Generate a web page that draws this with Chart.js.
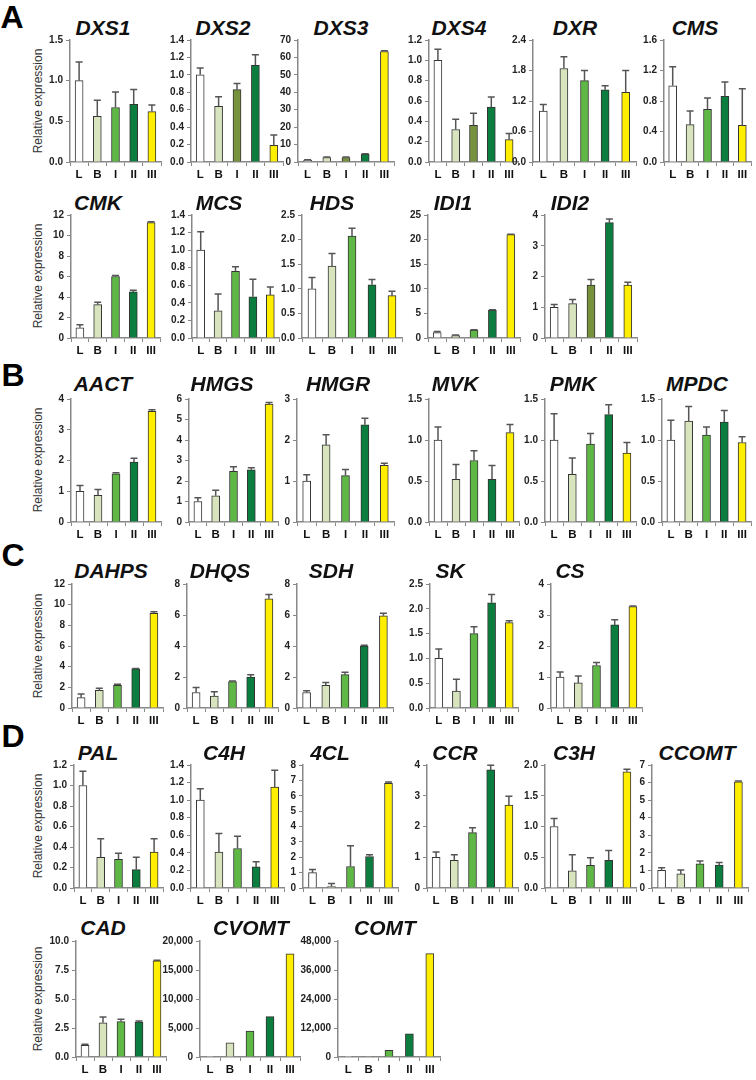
<!DOCTYPE html>
<html>
<head>
<meta charset="utf-8">
<script src="https://cdn.jsdelivr.net/npm/chart.js@4.4.1/dist/chart.umd.min.js"></script>
<style>
  body { margin: 0; width: 756px; height: 1080px; background: #fff; position: relative; overflow: hidden;
         font-family: "Liberation Sans", Arial, sans-serif; }
  .panel { position: absolute; }
  .title { position: absolute; font-weight: bold; font-style: italic; font-size: 21px; line-height: 1;
           transform: translate(-50%, -50%); white-space: nowrap; color: #111; }
  .letter { position: absolute; font-weight: bold; font-size: 32px; line-height: 1;
            transform: translate(-50%, -50%); color: #000; }
  .ylab { position: absolute; font-size: 12px; color: #333; line-height: 1; white-space: nowrap;
          transform: translate(-50%, -50%) rotate(-90deg); }
</style>
</head>
<body>
<script>
const categories = ['L', 'B', 'I', 'II', 'III'];

// MEP pathway
const dxs1 = [1.00, 0.56, 0.67, 0.71, 0.62];   const dxs1Err = [0.23, 0.20, 0.19, 0.18, 0.08];
const dxs2 = [1.00, 0.64, 0.83, 1.11, 0.19];   const dxs2Err = [0.08, 0.11, 0.07, 0.12, 0.12];
const dxs3 = [1.0, 2.6, 2.6, 4.5, 63.4];       const dxs3Err = [0.3, 0.3, 0.3, 0.3, 0.4];
const dxs4 = [1.00, 0.32, 0.36, 0.54, 0.22];   const dxs4Err = [0.11, 0.10, 0.12, 0.10, 0.06];
const dxr  = [1.00, 1.84, 1.60, 1.42, 1.37];   const dxrErr  = [0.13, 0.23, 0.20, 0.08, 0.43];
const cms  = [1.00, 0.49, 0.69, 0.86, 0.48];   const cmsErr  = [0.25, 0.18, 0.15, 0.19, 0.48];
const cmk  = [1.0, 3.25, 6.0, 4.5, 11.25];     const cmkErr  = [0.3, 0.25, 0.1, 0.17, 0.1];
const mcs  = [1.00, 0.31, 0.76, 0.47, 0.49];   const mcsErr  = [0.21, 0.19, 0.05, 0.20, 0.09];
const hds  = [1.00, 1.46, 2.07, 1.08, 0.86];   const hdsErr  = [0.23, 0.26, 0.16, 0.11, 0.09];
const idi1 = [1.1, 0.5, 1.6, 5.6, 21.0];       const idi1Err = [0.2, 0.1, 0.1, 0.15, 0.1];
const idi2 = [1.00, 1.12, 1.72, 3.75, 1.72];   const idi2Err = [0.09, 0.13, 0.18, 0.12, 0.09];

// MVA pathway
const aact = [1.00, 0.87, 1.57, 1.95, 3.60];   const aactErr = [0.19, 0.19, 0.03, 0.12, 0.05];
const hmgs = [1.00, 1.28, 2.47, 2.55, 5.75];   const hmgsErr = [0.18, 0.27, 0.23, 0.10, 0.08];
const hmgr = [1.00, 1.88, 1.13, 2.37, 1.38];   const hmgrErr = [0.15, 0.25, 0.15, 0.16, 0.05];
const mvk  = [1.00, 0.52, 0.75, 0.52, 1.09];   const mvkErr  = [0.16, 0.18, 0.12, 0.17, 0.10];
const pmk  = [1.00, 0.58, 0.95, 1.31, 0.84];   const pmkErr  = [0.32, 0.20, 0.13, 0.12, 0.13];
const mpdc = [1.00, 1.23, 1.06, 1.22, 0.97];   const mpdcErr = [0.24, 0.18, 0.10, 0.14, 0.07];

// shikimate pathway
const dahps = [1.0, 1.7, 2.2, 3.8, 9.15];      const dahpsErr = [0.35, 0.22, 0.1, 0.03, 0.17];
const dhqs  = [1.0, 0.77, 1.70, 2.0, 7.05];    const dhqsErr  = [0.32, 0.28, 0.05, 0.14, 0.28];
const sdh   = [1.0, 1.47, 2.15, 4.0, 5.95];    const sdhErr   = [0.12, 0.18, 0.15, 0.05, 0.17];
const sk    = [1.00, 0.34, 1.50, 2.12, 1.72];  const skErr    = [0.19, 0.24, 0.14, 0.17, 0.04];
const cs    = [1.00, 0.81, 1.37, 2.68, 3.27];  const csErr    = [0.16, 0.22, 0.10, 0.17, 0.02];

// phenylpropanoid pathway
const pal   = [1.00, 0.30, 0.28, 0.18, 0.35];  const palErr   = [0.14, 0.18, 0.06, 0.12, 0.13];
const c4h   = [1.00, 0.41, 0.45, 0.24, 1.15];  const c4hErr   = [0.13, 0.21, 0.14, 0.06, 0.19];
const cl4   = [1.0, 0.1, 1.4, 2.05, 6.8];      const cl4Err   = [0.2, 0.2, 1.35, 0.12, 0.1];
const ccr   = [1.00, 0.90, 1.80, 3.84, 2.70];  const ccrErr   = [0.17, 0.18, 0.16, 0.15, 0.28];
const c3h   = [1.00, 0.28, 0.37, 0.45, 1.89];  const c3hErr   = [0.13, 0.26, 0.12, 0.16, 0.04];
const ccomt = [1.0, 0.8, 1.38, 1.30, 6.04];    const ccomtErr = [0.15, 0.23, 0.16, 0.15, 0.05];
const cad   = [1.0, 2.95, 3.05, 3.0, 8.3];     const cadErr   = [0.1, 0.5, 0.2, 0.1, 0.05];
const cvomt = [1, 2450, 4450, 6950, 17800];    const cvomtErr = [0, 0, 0, 0, 0];
const comt  = [1, 50, 2750, 9600, 42800];      const comtErr  = [0, 0, 0, 0, 0];

const colors = ['#ffffff', '#d7e4bd', '#5fb846', '#0b7d3e', '#ffee00'];
const olive = '#77923c';

// name, values, errors, y axis [max, step, decimals (-1 = thousands)], olive "I" bar
const genes = [
  ['DXS1', dxs1, dxs1Err, [1.5, 0.5, 1], false],
  ['DXS2', dxs2, dxs2Err, [1.4, 0.2, 1], true],
  ['DXS3', dxs3, dxs3Err, [70, 10, 0], true],
  ['DXS4', dxs4, dxs4Err, [1.2, 0.2, 1], true],
  ['DXR', dxr, dxrErr, [2.4, 0.6, 1], false],
  ['CMS', cms, cmsErr, [1.6, 0.4, 1], false],
  ['CMK', cmk, cmkErr, [12, 2, 0], false],
  ['MCS', mcs, mcsErr, [1.4, 0.2, 1], false],
  ['HDS', hds, hdsErr, [2.5, 0.5, 1], false],
  ['IDI1', idi1, idi1Err, [25, 5, 0], false],
  ['IDI2', idi2, idi2Err, [4, 1, 0], true],
  ['AACT', aact, aactErr, [4, 1, 0], false],
  ['HMGS', hmgs, hmgsErr, [6, 1, 0], false],
  ['HMGR', hmgr, hmgrErr, [3, 1, 0], false],
  ['MVK', mvk, mvkErr, [1.5, 0.5, 1], false],
  ['PMK', pmk, pmkErr, [1.5, 0.5, 1], false],
  ['MPDC', mpdc, mpdcErr, [1.5, 0.5, 1], false],
  ['DAHPS', dahps, dahpsErr, [12, 2, 0], false],
  ['DHQS', dhqs, dhqsErr, [8, 2, 0], false],
  ['SDH', sdh, sdhErr, [8, 2, 0], false],
  ['SK', sk, skErr, [2.5, 0.5, 1], false],
  ['CS', cs, csErr, [4, 1, 0], false],
  ['PAL', pal, palErr, [1.2, 0.2, 1], false],
  ['C4H', c4h, c4hErr, [1.4, 0.2, 1], false],
  ['4CL', cl4, cl4Err, [8, 1, 0], false],
  ['CCR', ccr, ccrErr, [4, 1, 0], false],
  ['C3H', c3h, c3hErr, [2.0, 0.5, 1], false],
  ['CCOMT', ccomt, ccomtErr, [7, 1, 0], false],
  ['CAD', cad, cadErr, [10, 2.5, 1], false],
  ['CVOMT', cvomt, cvomtErr, [20000, 5000, -1], false],
  ['COMT', comt, comtErr, [48000, 12000, -1], false]
];

// page layout: rows of [top, zero, titleY], panels of [row, axisX, rightX, titleX]
const rows = [
  [39, 162, 27], [214, 338, 202], [398, 522, 383], [583, 708, 570], [764, 888, 752], [940, 1057, 927]
];
const layout = [
  [0, 70, 161, 103], [0, 191, 283, 223], [0, 298, 394, 341], [0, 429, 518, 459], [0, 533, 636, 575], [0, 664, 751, 695],
  [1, 71, 160, 98], [1, 192, 279, 219], [1, 302, 402, 332], [1, 428, 520, 453], [1, 545, 637, 570],
  [2, 71, 161, 103], [2, 189, 278, 222], [2, 297, 394, 338], [2, 429, 519, 455], [2, 545, 636, 573], [2, 662, 751, 697],
  [3, 72, 163, 111], [3, 187, 278, 220], [3, 297, 393, 331], [3, 430, 518, 450], [3, 551, 642, 570],
  [4, 74, 163, 98], [4, 191, 284, 224], [4, 303, 398, 330], [4, 427, 518, 455], [4, 545, 636, 574], [4, 652, 748, 697],
  [5, 76, 166, 103], [5, 200, 300, 251], [5, 338, 440, 385]
];

const letters = [['A', 12, 17], ['B', 13, 375], ['C', 13, 555], ['D', 13, 736]];

const LEFT_W = 44, PAD_TOP = 8, BOTTOM_H = 22, PAD_R = 4;

const errorBars = {
  id: 'errorBars',
  afterDatasetsDraw(chart) {
    const ctx = chart.ctx;
    const y = chart.scales.y;
    const ds = chart.data.datasets[0];
    ctx.save();
    ctx.strokeStyle = '#555';
    ctx.lineWidth = 1.5;
    chart.getDatasetMeta(0).data.forEach((bar, i) => {
      const e = ds.errors[i];
      if (!e) return;
      const top = y.getPixelForValue(ds.data[i] + e);
      ctx.beginPath();
      ctx.moveTo(bar.x, bar.y);
      ctx.lineTo(bar.x, top);
      ctx.moveTo(bar.x - 3.5, top);
      ctx.lineTo(bar.x + 3.5, top);
      ctx.stroke();
    });
    ctx.restore();
  }
};

function addText(cls, text, x, y) {
  const d = document.createElement('div');
  d.className = cls;
  d.textContent = text;
  d.style.left = x + 'px';
  d.style.top = y + 'px';
  document.body.appendChild(d);
}

letters.forEach(([t, x, y]) => addText('letter', t, x, y));
rows.forEach(([top, zero]) => addText('ylab', 'Relative expression', 38, (top + zero) / 2));

genes.forEach(([name, values, errors, [max, step, dec], oliveI], k) => {
  const [r, axisX, rightX, titleX] = layout[k];
  const [top, zero, titleY] = rows[r];
  addText('title', name, titleX, titleY);

  const w = rightX - axisX + LEFT_W + PAD_R;
  const h = zero - top + PAD_TOP + BOTTOM_H;
  const canvas = document.createElement('canvas');
  canvas.className = 'panel';
  canvas.width = w; canvas.height = h;
  canvas.style.left = (axisX - LEFT_W) + 'px';
  canvas.style.top = (top - PAD_TOP) + 'px';
  canvas.style.width = w + 'px'; canvas.style.height = h + 'px';
  document.body.appendChild(canvas);

  const fill = colors.slice();
  if (oliveI) fill[2] = olive;

  new Chart(canvas, {
    type: 'bar',
    data: {
      labels: categories,
      datasets: [{
        data: values,
        errors: errors,
        backgroundColor: fill,
        borderColor: '#333',
        borderWidth: 1,
        barThickness: 8
      }]
    },
    options: {
      responsive: false,
      animation: false,
      layout: { padding: { top: PAD_TOP, right: PAD_R, left: 0, bottom: 0 } },
      plugins: { legend: { display: false }, tooltip: { enabled: false } },
      scales: {
        y: {
          min: 0,
          max: max,
          afterFit: s => { s.width = LEFT_W; },
          ticks: {
            stepSize: step,
            color: '#222',
            padding: 3,
            font: { family: '"Liberation Sans", Arial', size: 10, weight: 'bold' },
            callback: v => dec < 0 ? v.toLocaleString('en-US') : v.toFixed(dec)
          },
          grid: { drawOnChartArea: false, tickLength: 4, color: '#888' },
          border: { color: '#888', width: 1.5 }
        },
        x: {
          afterFit: s => { s.height = BOTTOM_H; },
          ticks: {
            color: '#111',
            padding: 2,
            font: { family: '"Liberation Sans", Arial', size: 11.5, weight: 'bold' }
          },
          grid: { drawOnChartArea: false, tickLength: 4, offset: true, color: '#888' },
          border: { color: '#888', width: 1.5 }
        }
      }
    },
    plugins: [errorBars]
  });
});
</script>
</body>
</html>
